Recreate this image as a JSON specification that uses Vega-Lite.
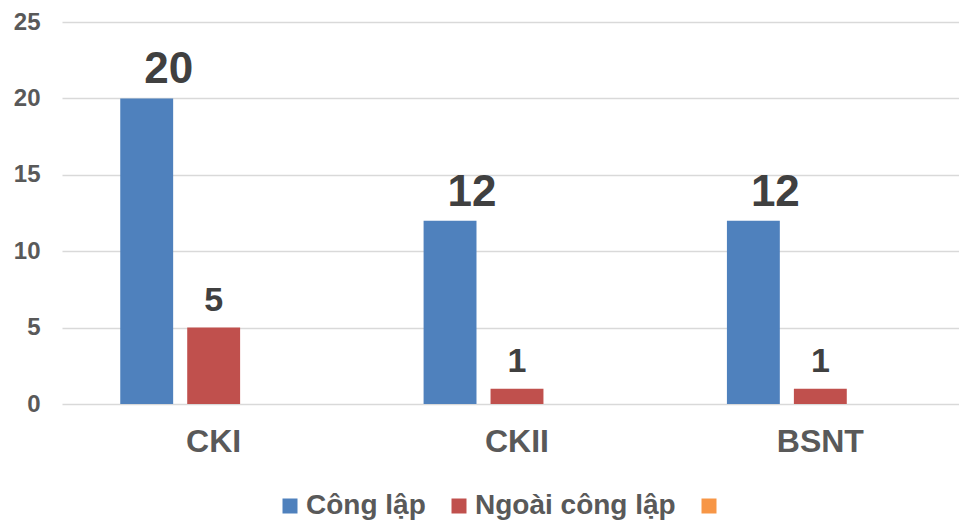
{
  "$schema": "https://vega.github.io/schema/vega-lite/v6.json",
  "width": 910,
  "height": 382,
  "autosize": {"type": "none"},
  "padding": {"left": 62, "top": 22, "right": 0, "bottom": 120},
  "background": "white",
  "config": {
    "view": {"stroke": null},
    "font": "Liberation Sans"
  },
  "data": {
    "values": [
      {"cat": "CKI", "series": "Công lập", "value": 20},
      {"cat": "CKI", "series": "Ngoài công lập", "value": 5},
      {"cat": "CKI", "series": "Khác", "value": 0},
      {"cat": "CKII", "series": "Công lập", "value": 12},
      {"cat": "CKII", "series": "Ngoài công lập", "value": 1},
      {"cat": "CKII", "series": "Khác", "value": 0},
      {"cat": "BSNT", "series": "Công lập", "value": 12},
      {"cat": "BSNT", "series": "Ngoài công lập", "value": 1},
      {"cat": "BSNT", "series": "Khác", "value": 0}
    ]
  },
  "encoding": {
    "x": {
      "field": "cat", "type": "nominal", "sort": ["CKI", "CKII", "BSNT"],
      "scale": {"paddingInner": 0, "paddingOuter": 0},
      "axis": {"title": null, "labelAngle": 0, "domain": false, "ticks": false, "labelFont": "Liberation Sans", "labelFontWeight": "bold", "labelFontSize": 32, "labelColor": "#595959", "labelPadding": 22}
    },
    "xOffset": {
      "field": "series", "type": "nominal", "sort": ["Công lập", "Ngoài công lập", "Khác"],
      "scale": {"paddingInner": 0.21, "paddingOuter": 0.87}
    },
    "y": {
      "field": "value", "type": "quantitative",
      "scale": {"domain": [0, 25], "nice": false},
      "axis": {"title": null, "values": [0, 5, 10, 15, 20, 25], "domain": false, "ticks": false, "gridColor": "#d9d9d9", "gridWidth": 1.5, "labelFont": "Liberation Sans", "labelFontWeight": "bold", "labelFontSize": 24, "labelColor": "#595959", "labelPadding": 22}
    }
  },
  "layer": [
    {
      "mark": {"type": "bar"},
      "encoding": {
        "color": {
          "field": "series", "type": "nominal", "sort": ["Công lập", "Ngoài công lập", "Khác"],
          "scale": {"domain": ["Công lập", "Ngoài công lập", "Khác"], "range": ["#4F81BD", "#C0504D", "#F79646"]},
          "legend": {
            "title": null, "orient": "none", "direction": "horizontal", "legendX": 214, "legendY": 470,
            "symbolType": "square", "symbolSize": 225, "symbolStrokeWidth": 0,
            "labelFont": "Liberation Sans", "labelFontWeight": "bold", "labelFontSize": 28, "labelColor": "#595959",
            "labelOffset": 2, "columnPadding": 19, "labelLimit": 500,
            "labelExpr": "datum.label == 'Khác' ? '' : datum.label"
          }
        }
      }
    },
    {
      "transform": [{"filter": "datum.series == 'Công lập'"}],
      "mark": {"type": "text", "baseline": "alphabetic", "dy": -15, "dx": 22, "fontSize": 44, "fontWeight": "bold", "color": "#404040", "font": "Liberation Sans"},
      "encoding": {"text": {"field": "value", "type": "quantitative"}}
    },
    {
      "transform": [{"filter": "datum.series == 'Ngoài công lập'"}],
      "mark": {"type": "text", "baseline": "alphabetic", "dy": -17, "fontSize": 34, "fontWeight": "bold", "color": "#404040", "font": "Liberation Sans"},
      "encoding": {"text": {"field": "value", "type": "quantitative"}}
    }
  ]
}
